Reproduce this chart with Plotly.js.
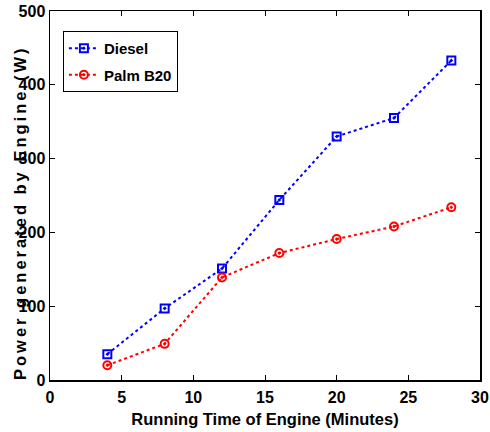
<!DOCTYPE html>
<html>
<head>
<meta charset="utf-8">
<script src="https://cdn.plot.ly/plotly-3.0.1.min.js"></script>
<style>
html, body { margin: 0; padding: 0; background: #fff; }
#chart { width: 490px; height: 432px; }
.annotation-text { letter-spacing: 3px; }
</style>
</head>
<body>
<div id="chart"></div>
<script>
var timeMinutes = [4, 8, 12, 16, 20, 24, 28];
var dieselPower = [35, 97, 151, 244, 330, 355, 433];
var palmB20Power = [20, 49, 139, 172, 191, 208, 234];
var seriesNames = ['Diesel', 'Palm B20'];
var xTitle = 'Running Time of Engine (Minutes)';
var yTitle = 'Power generated by Engine (W)';

var fontFamily = '"Liberation Sans", Arial, Helvetica, sans-serif';

var traces = [
  {
    x: timeMinutes, y: dieselPower, name: seriesNames[0], legendgroup: 'a',
    type: 'scatter', mode: 'lines+markers',
    line: { color: '#0000ff', width: 2, dash: 'dot' },
    marker: { symbol: 'square-open-dot', size: 8, color: '#0000ff', line: { width: 2, color: '#0000ff' } }
  },
  {
    x: timeMinutes, y: palmB20Power, name: seriesNames[1], legendgroup: 'b',
    type: 'scatter', mode: 'lines+markers',
    line: { color: '#ff0000', width: 2, dash: 'dot' },
    marker: { symbol: 'circle-open-dot', size: 8, color: '#ff0000', line: { width: 2, color: '#ff0000' } }
  }
];

var axisCommon = {
  showline: true, linecolor: '#000', linewidth: 1.5, mirror: 'ticks',
  ticks: 'inside', ticklen: 5, tickwidth: 1, tickcolor: '#000',
  showgrid: false, zeroline: false,
  tickfont: { family: fontFamily, size: 16, color: '#000', weight: 'bold' }
};

var layout = {
  width: 490, height: 432,
  margin: { l: 50, r: 10, t: 11, b: 52 },
  paper_bgcolor: '#fff', plot_bgcolor: '#fff',
  font: { family: fontFamily, color: '#000' },
  showlegend: true,
  legend: {
    x: 0.03, y: 0.946, xanchor: 'left', yanchor: 'top',
    bgcolor: '#fff', bordercolor: '#000', borderwidth: 1,
    font: { family: fontFamily, size: 15, color: '#000', weight: 'bold' },
    traceorder: 'grouped', tracegroupgap: 4
  },
  xaxis: Object.assign({}, axisCommon, {
    range: [0, 30], dtick: 5, tick0: 0, ticklabelstandoff: 2,
    title: { text: xTitle, font: { family: fontFamily, size: 16.5, color: '#000', weight: 'bold' }, standoff: 8 }
  }),
  yaxis: Object.assign({}, axisCommon, {
    range: [0, 500], dtick: 100, tick0: 0
  }),
  annotations: [{
    text: yTitle, textangle: -90, showarrow: false,
    xref: 'paper', yref: 'paper',
    x: (20 - 50) / 430, y: (380 - 213) / 369,
    xanchor: 'center', yanchor: 'middle',
    font: { family: fontFamily, size: 16.5, color: '#000', weight: 'bold' }
  }]
};

Plotly.newPlot('chart', traces, layout, { displayModeBar: false, staticPlot: true });
</script>
</body>
</html>
